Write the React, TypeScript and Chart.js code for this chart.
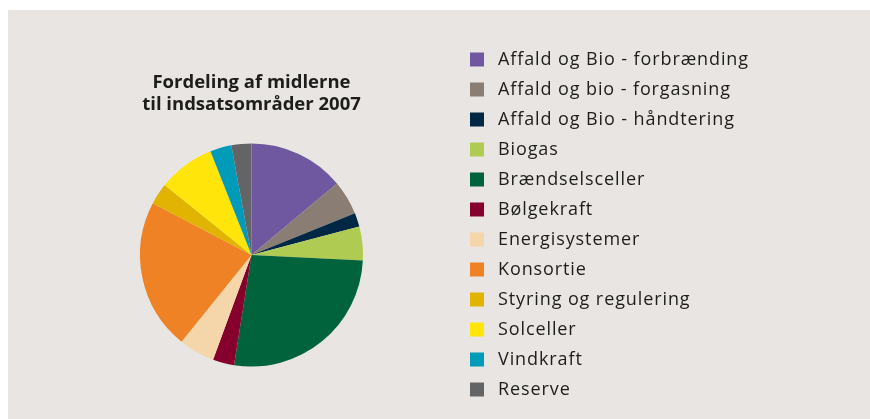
import React, { useEffect, useRef } from "react";
import { Chart, registerables } from "chart.js";

Chart.register(...registerables);

const categories = [
  "Affald og Bio - forbrænding",
  "Affald og bio - forgasning",
  "Affald og Bio - håndtering",
  "Biogas",
  "Brændselsceller",
  "Bølgekraft",
  "Energisystemer",
  "Konsortie",
  "Styring og regulering",
  "Solceller",
  "Vindkraft",
  "Reserve",
];

const shares = [13.9, 5.0, 2.0, 4.9, 26.7, 3.1, 5.2, 21.9, 3.1, 8.2, 3.1, 2.9];

const sliceColors = [
  "#6f58a0",
  "#8a7d73",
  "#002744",
  "#b0cb52",
  "#00633b",
  "#86002e",
  "#f4d6aa",
  "#ee8225",
  "#e0b400",
  "#ffe50a",
  "#009bb9",
  "#636466",
];

const titleLines = ["Fordeling af midlerne", "til indsatsområder 2007"];

const BG = "#e9e5e2";
const TEXT = "#1d1d1b";
const FONT = "'Open Sans', 'Noto Sans', sans-serif";
const LEGEND_SIZE = 18;
const LEGEND_SPACING = "0.9px";
const CANVAS_W = 862;
const CANVAS_H = 409;

// legend geometry
const BOX = 24; // drawn box incl. background-coloured border
const BOX_BORDER = 10;
const ITEM_PAD = 6;
const LEGEND_LEFT = 451;

const spacingPlugin = {
  id: "legendSpacing",
  beforeLayout(chart: any) {
    chart.ctx.letterSpacing = LEGEND_SPACING;
  },
  beforeDraw(chart: any) {
    const ctx = chart.ctx;
    ctx.letterSpacing = LEGEND_SPACING;
    const tb = chart.titleBlock;
    if (tb && !tb.__wrapped) {
      const orig = tb.draw.bind(tb);
      tb.draw = (...args: any[]) => {
        const prev = ctx.letterSpacing;
        ctx.letterSpacing = "0px";
        orig(...args);
        ctx.letterSpacing = prev;
      };
      tb.__wrapped = true;
    }
  },
  afterDraw(chart: any) {
    chart.ctx.letterSpacing = "0px";
  },
};

export default function App() {
  const ref = useRef<HTMLCanvasElement | null>(null);

  useEffect(() => {
    if (!ref.current) return;

    // measure legend text to place the legend column where it belongs
    const m = document.createElement("canvas").getContext("2d") as any;
    m.font = `${LEGEND_SIZE}px ${FONT}`;
    m.letterSpacing = LEGEND_SPACING;
    let maxText = 0;
    categories.forEach((c) => {
      maxText = Math.max(maxText, m.measureText(c).width);
    });
    const legendWidth = ITEM_PAD + BOX + LEGEND_SIZE / 2 + maxText + 10;
    const rightPad = Math.max(0, CANVAS_W - LEGEND_LEFT - legendWidth);

    const chart = new Chart(ref.current, {
      type: "pie",
      data: {
        labels: categories,
        datasets: [
          {
            data: shares,
            backgroundColor: sliceColors,
            borderWidth: 0,
            radius: 111.5,
          } as any,
        ],
      },
      options: {
        responsive: false,
        animation: false,
        devicePixelRatio: 1,
        layout: { padding: { top: 31.5, left: 36, right: rightPad, bottom: 8 } },
        plugins: {
          tooltip: { enabled: false },
          title: {
            display: true,
            text: titleLines,
            position: "top",
            fullSize: false,
            color: TEXT,
            font: { family: FONT, size: 18.5, weight: "bold", lineHeight: "22px" },
            padding: { top: 30.5, bottom: -17 },
          },
          legend: {
            display: true,
            position: "right",
            align: "start",
            labels: {
              boxWidth: BOX,
              boxHeight: BOX,
              padding: ITEM_PAD,
              color: TEXT,
              font: { family: FONT, size: LEGEND_SIZE },
              generateLabels: () =>
                categories.map((text, i) => ({
                  text,
                  fillStyle: sliceColors[i],
                  strokeStyle: BG,
                  lineWidth: BOX_BORDER,
                  hidden: false,
                  index: i,
                  fontColor: TEXT,
                })),
            },
          },
        },
      } as any,
      plugins: [spacingPlugin as any],
    });
    return () => chart.destroy();
  }, []);

  return (
    <div
      style={{
        position: "fixed",
        left: 8,
        top: 10,
        width: CANVAS_W,
        height: CANVAS_H,
        background: BG,
      }}
    >
      <canvas ref={ref} width={CANVAS_W} height={CANVAS_H} style={{ display: "block" }} />
    </div>
  );
}
